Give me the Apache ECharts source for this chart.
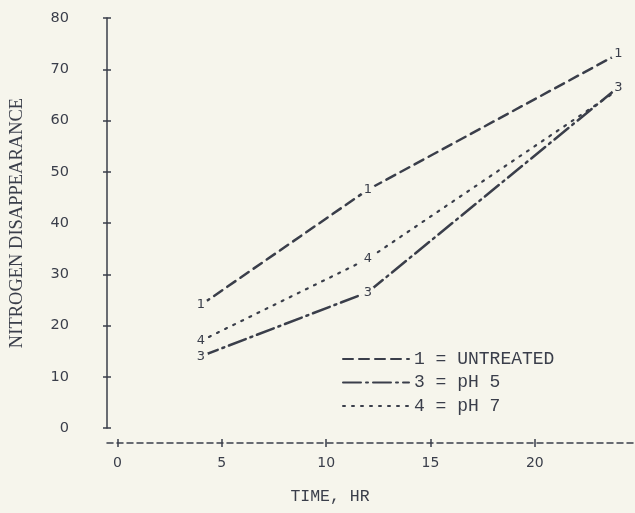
<!DOCTYPE html>
<html>
<head>
<meta charset="utf-8">
<script src="https://cdn.jsdelivr.net/npm/echarts@6/dist/echarts.min.js"></script>
<style>
  html, body { margin: 0; padding: 0; background: #f6f5ec; }
  #chart { width: 635px; height: 513px; }
</style>
</head>
<body>
<div id="chart"></div>
<script>
  // data
  const hours = [4, 12, 24];
  const untreated = [24, 46.5, 73];
  const ph5 = [14, 26.5, 66.5];
  const ph7 = [17, 33, 66];
  const curveTags = ['1', '3', '4'];
  const legendNames = ['1 = UNTREATED', '3 = pH 5', '4 = pH 7'];
  const xTicks = [0, 5, 10, 15, 20];

  const ink = '#3a3e4a';
  const paper = '#f6f5ec';

  function pts(ys, hideLast) {
    return hours.map((h, i) => {
      const item = { value: [h, ys[i]] };
      if (hideLast && i === hours.length - 1) item.label = { show: false };
      return item;
    });
  }

  function curve(idx, ys, dash, width, hideLast) {
    return {
      name: legendNames[idx],
      type: 'line',
      xAxisIndex: 0,
      yAxisIndex: 0,
      data: pts(ys, hideLast),
      symbol: 'circle',
      symbolSize: 15,
      showSymbol: true,
      itemStyle: { color: paper, borderWidth: 0 },
      lineStyle: { color: ink, width: width, type: dash, cap: 'round' },
      label: {
        show: true,
        position: 'inside',
        formatter: () => curveTags[idx],
        color: ink,
        fontFamily: 'DejaVu Sans',
        fontSize: 13,
      },
      z: 3 - idx,
    };
  }

  const chart = echarts.init(document.getElementById('chart'));

  const xBase = {
    type: 'value',
    position: 'bottom',
    min: -0.5,
    max: 24.8,
    offset: 15,
    splitLine: { show: false },
  };
  const yBase = {
    type: 'value',
    position: 'left',
    min: 0,
    max: 80,
    interval: 10,
    splitLine: { show: false },
  };

  chart.setOption({
    animation: false,
    backgroundColor: paper,
    grid: { left: 107, right: 0, top: 18, bottom: 85 },
    xAxis: [
      Object.assign({}, xBase, {
        axisLine: { show: true, onZero: false, lineStyle: { color: ink, width: 1.5, type: [6, 4] } },
        axisTick: { show: true, inside: false, length: 4, customValues: xTicks, lineStyle: { color: ink, width: 1.5 } },
        axisLabel: {
          show: true,
          customValues: xTicks,
          margin: 13,
          color: ink,
          fontFamily: 'DejaVu Sans',
          fontSize: 14,
        },
      }),
      Object.assign({}, xBase, {
        axisLine: { show: false, onZero: false },
        axisTick: { show: true, inside: true, length: 4, customValues: xTicks, lineStyle: { color: ink, width: 1.5 } },
        axisLabel: { show: false },
      }),
    ],
    yAxis: [
      Object.assign({}, yBase, {
        name: 'NITROGEN DISAPPEARANCE',
        nameLocation: 'middle',
        nameGap: 80,
        nameTextStyle: { color: ink, fontFamily: 'Liberation Serif', fontSize: 18.5 },
        axisLine: { show: true, onZero: false, lineStyle: { color: ink, width: 1.5 } },
        axisTick: { show: true, inside: false, length: 4, lineStyle: { color: ink, width: 1.5 } },
        axisLabel: {
          margin: 38,
          color: ink,
          fontFamily: 'DejaVu Sans',
          fontSize: 14.5,
        },
      }),
      Object.assign({}, yBase, {
        axisLine: { show: false, onZero: false },
        axisTick: { show: true, inside: true, length: 4, lineStyle: { color: ink, width: 1.5 } },
        axisLabel: { show: false },
      }),
    ],
    legend: {
      orient: 'vertical',
      left: 342,
      top: 350,
      padding: 0,
      itemWidth: 66,
      itemHeight: 14,
      itemGap: 5.5,
      itemStyle: { opacity: 0 },
      textStyle: { color: ink, fontFamily: 'Liberation Mono', fontSize: 18 },
      data: legendNames,
    },
    graphic: [
      {
        type: 'text',
        x: 330,
        y: 497,
        style: {
          text: 'TIME, HR',
          fill: ink,
          font: '16.5px "Liberation Mono"',
          textAlign: 'center',
          textVerticalAlign: 'middle',
        },
      },
    ],
    series: [
      curve(0, untreated, [10, 6], 2.5, false),
      curve(1, ph5, [18, 5, 2, 5], 2.5, false),
      curve(2, ph7, [2, 7], 2.2, true),
    ],
  });
</script>
</body>
</html>
